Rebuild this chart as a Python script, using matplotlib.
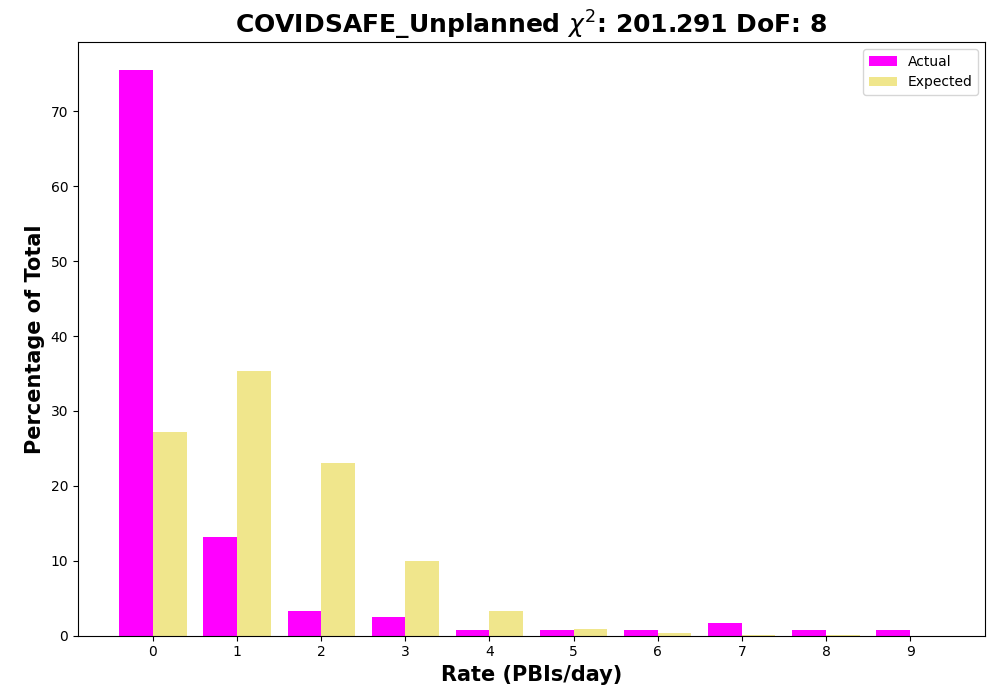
import numpy as np
import matplotlib
matplotlib.use("Agg")
import matplotlib.pyplot as plt

rates = [0, 1, 2, 3, 4, 5, 6, 7, 8, 9]
actual = [75.5, 13.2, 3.3, 2.5, 0.8, 0.8, 0.8, 1.7, 0.8, 0.8]
expected = [27.2, 35.4, 23.1, 10.0, 3.3, 0.9, 0.35, 0.1, 0.02, 0.0]

x = np.array(rates)
w = 0.4

fig, ax = plt.subplots(figsize=(10, 7), dpi=100)
ax.bar(x - w / 2, actual, width=w, color="magenta", label="Actual")
ax.bar(x + w / 2, expected, width=w, color="khaki", label="Expected")
ax.set_xticks(x)
ax.set_xticklabels([str(r) for r in rates])
ax.set_xlabel("Rate (PBIs/day)", fontsize=15, fontweight="bold")
ax.set_ylabel("Percentage of Total", fontsize=15, fontweight="bold")
ax.set_title(r"COVIDSAFE_Unplanned $\chi^2$: 201.291 DoF: 8", fontsize=18, fontweight="bold")
ax.legend(loc="upper right")
fig.subplots_adjust(left=0.078, right=0.985, top=0.94, bottom=0.092)
plt.savefig("out.png", dpi=100)
